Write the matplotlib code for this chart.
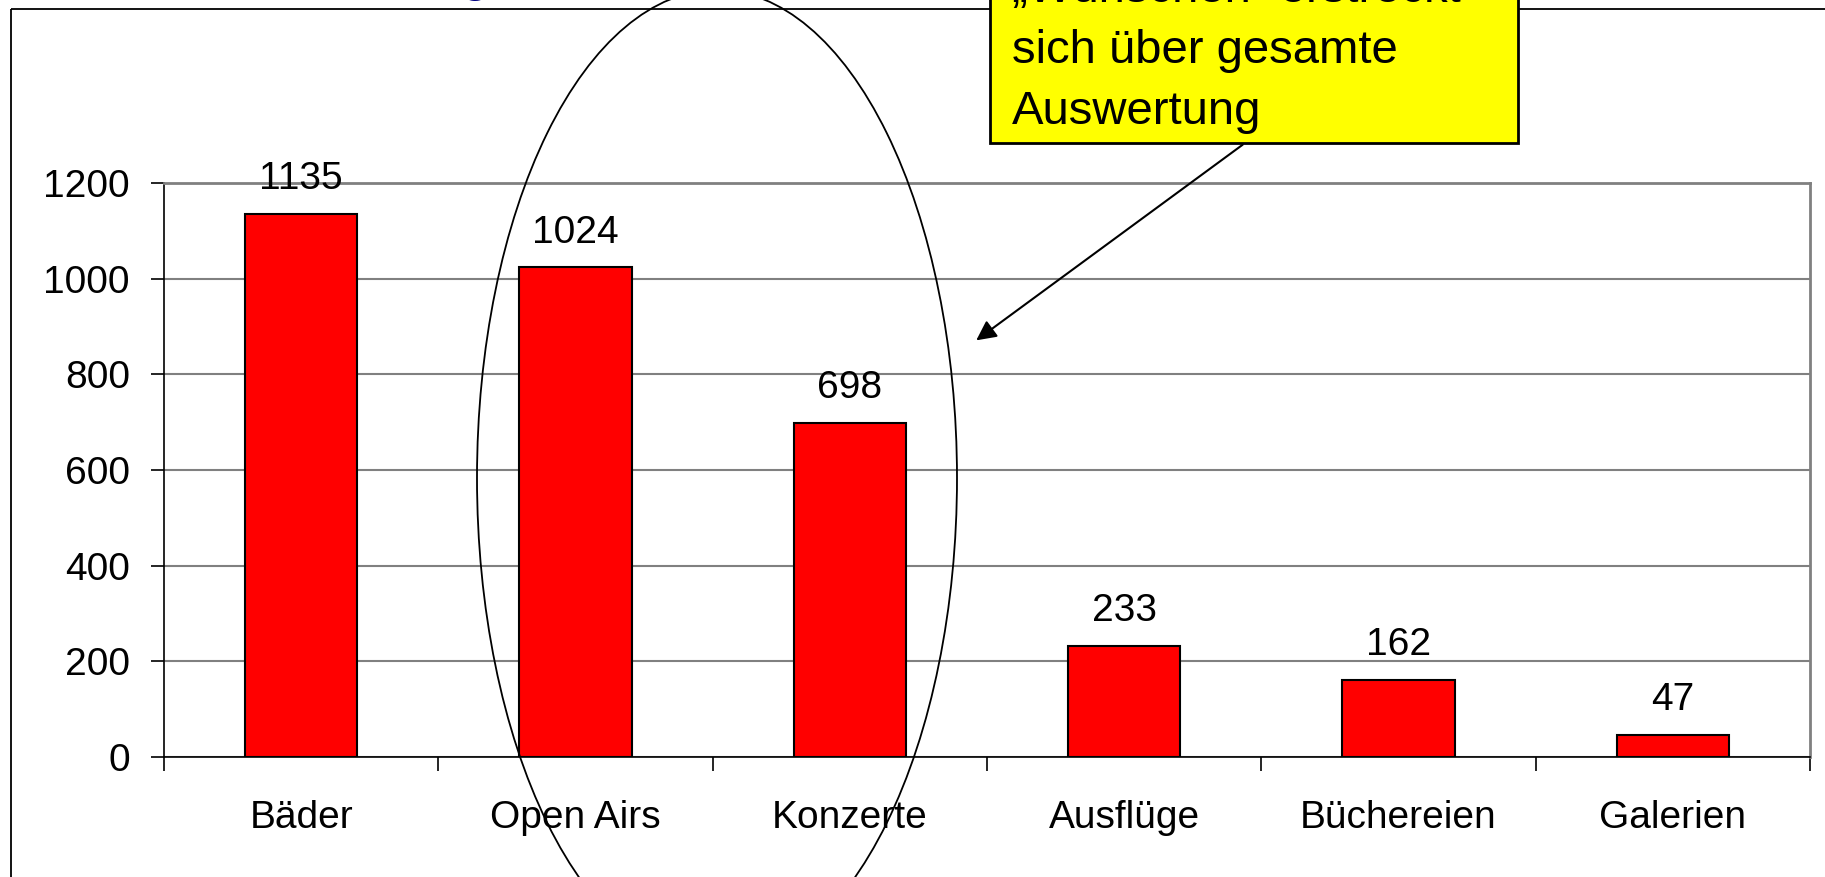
import numpy as np
import matplotlib
matplotlib.use('Agg')
import matplotlib.pyplot as plt
from matplotlib.patches import Ellipse, Rectangle

categories = ['Bäder', 'Open Airs', 'Konzerte', 'Ausflüge', 'Büchereien', 'Galerien']
values = [1135, 1024, 698, 233, 162, 47]
y_ticks = [0, 200, 400, 600, 800, 1000, 1200]
note = '„Wünschen“ erstreckt\nsich über gesamte\nAuswertung'

plt.rcParams['font.family'] = ['Liberation Sans', 'DejaVu Sans']

W, H = 1825, 877
fig = plt.figure(figsize=(W / 100, H / 100), dpi=100)

# main chart area in pixel terms
left, right, top, bottom = 164, 1810, 183, 757
ax = fig.add_axes([left / W, (H - bottom) / H, (right - left) / W, (bottom - top) / H])

x = np.arange(len(categories))
bars = ax.bar(x, values, width=0.41, color='#ff0000', edgecolor='black', linewidth=1.5, zorder=3)
ax.bar_label(bars, labels=[str(v) for v in values], padding=12, fontsize=28)

ax.set_xlim(-0.5, len(categories) - 0.5)
ax.set_ylim(0, 1200)
ax.set_yticks(y_ticks)
ax.set_yticklabels([str(t) for t in y_ticks], fontsize=28)
ax.yaxis.grid(True, color='#808080', linewidth=1.5, zorder=0)
ax.set_axisbelow(True)

ax.set_xticks(x)
ax.set_xticklabels(categories, fontsize=28)
ax.set_xticks(np.arange(len(categories) + 1) - 0.5, minor=True)
ax.tick_params(axis='x', which='major', length=0, pad=31)
ax.tick_params(axis='x', which='minor', length=10, width=1.2, direction='out')
ax.tick_params(axis='y', length=9.5, width=1.2, pad=15)

for s in ['left', 'bottom']:
    ax.spines[s].set_color('black')
    ax.spines[s].set_linewidth(1.2)
for s in ['top', 'right']:
    ax.spines[s].set_color('#808080')
    ax.spines[s].set_linewidth(2)

# overlay in pixel coordinates for the slide decorations
ov = fig.add_axes([0, 0, 1, 1], zorder=5)
ov.set_xlim(0, W)
ov.set_ylim(H, 0)
ov.axis('off')
ov.patch.set_alpha(0)

ov.add_patch(Rectangle((11, 9), W + 50, H + 50, fill=False, edgecolor='black', linewidth=1.3))
ov.text(475, -8, 'g', color='#000080', fontsize=32, fontweight='bold', ha='center', va='baseline')

ov.add_patch(Ellipse((717, 478), 480, 976, fill=False, edgecolor='black', linewidth=1.3))

ov.annotate('', xy=(974, 342), xytext=(1245, 143),
            arrowprops=dict(arrowstyle='-|>', color='black', lw=1.5, mutation_scale=30))
ov.add_patch(Rectangle((990, -20), 528, 163, facecolor='#ffff00', edgecolor='black', linewidth=2, zorder=6))
ov.text(1012, 124, note, fontsize=34, ha='left', va='baseline', linespacing=1.5, zorder=7)

fig.savefig('out.png', dpi=100)
